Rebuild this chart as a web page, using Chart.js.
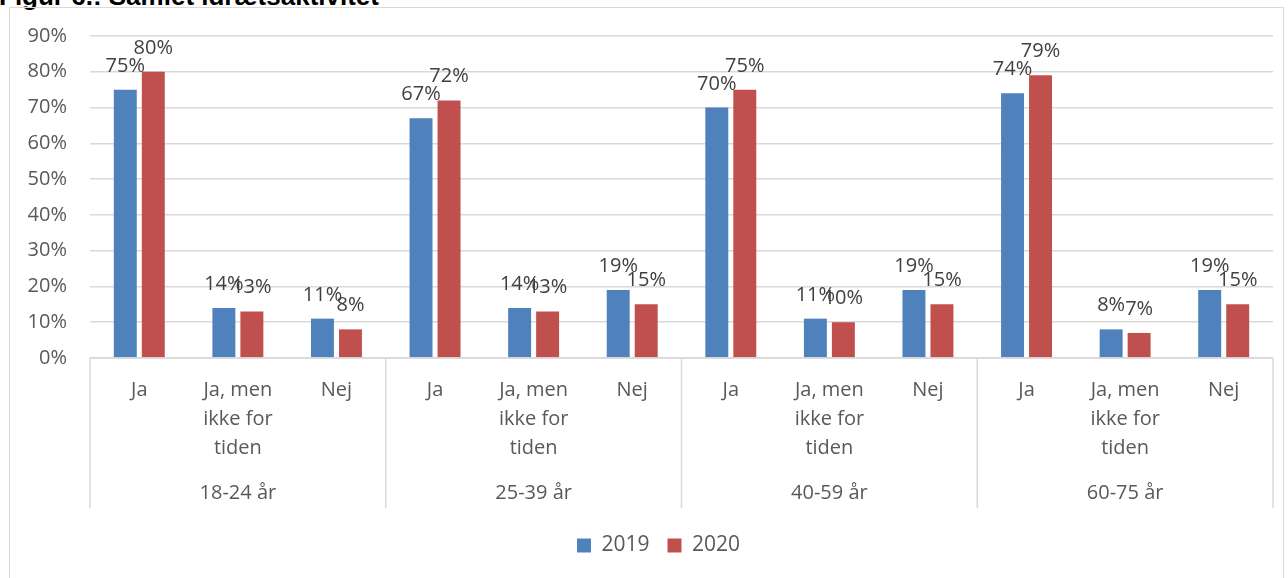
<!DOCTYPE html>
<html>
<head>
<meta charset="utf-8">
<script src="https://cdn.jsdelivr.net/npm/chart.js@4.4.0/dist/chart.umd.min.js"></script>
<style>
  body { margin: 0; background: #fff; width: 1288px; height: 578px; overflow: hidden; position: relative; }
  #title { position: absolute; left: -1px; top: -19px; line-height: 26px; font: bold 26px 'Liberation Sans', Arial, sans-serif; color: #000; white-space: nowrap; }
  #frame { position: absolute; left: 9px; top: 7px; width: 1273px; height: 600px; border: 1px solid #d9d9d9; }
  #wrap { position: relative; width: 1273px; height: 570px; }
</style>
</head>
<body>
<div id="title">Figur 6.: Samlet idrætsaktivitet</div>
<div id="frame">
  <div id="wrap"><canvas id="sportChart"></canvas></div>
</div>
<script>
// aldersgrupper og svar
var ageGroups = ['18-24 år', '25-39 år', '40-59 år', '60-75 år'];
var answers = [['Ja'], ['Ja, men', 'ikke for', 'tiden'], ['Nej']];
// andel i procent, 3 svar pr. aldersgruppe
var values2019 = [75, 14, 11, 67, 14, 19, 70, 11, 19, 74, 8, 19];
var values2020 = [80, 13, 8, 72, 13, 15, 75, 10, 15, 79, 7, 15];
var yTicks = [0, 10, 20, 30, 40, 50, 60, 70, 80, 90];

var labels = [];
ageGroups.forEach(function () {
    answers.forEach(function (a) { labels.push(a); });
});

var FONT = "'Open Sans', sans-serif";
var GRID = '#d9d9d9';

// procenttal over hver søjle
var barValues = {
    id: 'barValues',
    afterDatasetsDraw: function (chart) {
        var ctx = chart.ctx;
        ctx.save();
        ctx.font = '20px ' + FONT;
        ctx.fillStyle = '#404040';
        ctx.textAlign = 'center';
        ctx.textBaseline = 'alphabetic';
        chart.data.datasets.forEach(function (ds, i) {
            chart.getDatasetMeta(i).data.forEach(function (bar, j) {
                ctx.fillText(ds.data[j] + '%', bar.x, bar.y - 18);
            });
        });
        ctx.restore();
    }
};

// kasser og tekst for aldersgrupperne under x-aksen
var groupBoxes = {
    id: 'groupBoxes',
    afterLayout: function (chart) {
        // forklaringen skal sidde lidt til højre for midten
        chart.legend.left += 17;
        chart.legend.right += 17;
    },
    afterDraw: function (chart) {
        var ctx = chart.ctx;
        var area = chart.chartArea;
        var n = answers.length;
        var cw = (area.right - area.left) / labels.length;
        ctx.save();
        ctx.strokeStyle = GRID;
        ctx.lineWidth = 1.5;
        ctx.beginPath();
        ctx.moveTo(area.left, area.bottom);
        ctx.lineTo(area.right, area.bottom);
        for (var k = 0; k <= ageGroups.length; k++) {
            var bx = area.left + k * n * cw;
            ctx.moveTo(bx, area.bottom);
            ctx.lineTo(bx, area.bottom + 150);
        }
        ctx.stroke();
        ctx.font = '20px ' + FONT;
        ctx.fillStyle = '#595959';
        ctx.textAlign = 'center';
        ctx.textBaseline = 'middle';
        ageGroups.forEach(function (g, k) {
            var cx = area.left + (k * n + n / 2) * cw;
            ctx.fillText(g, cx, area.bottom + 135);
        });
        ctx.restore();
    }
};

var ctx = document.getElementById('sportChart').getContext('2d');
var chart = new Chart(ctx, {
    type: 'bar',
    data: {
        labels: labels,
        datasets: [{
            label: '2019',
            data: values2019,
            backgroundColor: '#4f81bd'
        }, {
            label: '2020',
            data: values2020,
            backgroundColor: '#c0504d'
        }]
    },
    options: {
        responsive: true,
        maintainAspectRatio: false,
        animation: false,
        categoryPercentage: 0.568,
        barPercentage: 0.82,
        layout: { padding: { top: 28, right: 10, bottom: 12, left: 0 } },
        scales: {
            y: {
                min: 0,
                max: 90,
                afterBuildTicks: function (scale) {
                    scale.ticks = yTicks.map(function (v) { return { value: v }; });
                },
                afterFit: function (scale) { scale.width = 80; },
                grid: { color: GRID, lineWidth: 1.5, drawTicks: false },
                border: { display: false },
                ticks: {
                    padding: 23,
                    color: '#595959',
                    font: { family: FONT, size: 20, lineHeight: '8px' },
                    callback: function (v) { return v + '%'; }
                }
            },
            x: {
                afterFit: function (scale) { scale.height = 159; },
                grid: { display: false },
                border: { display: false },
                ticks: {
                    padding: 10,
                    maxRotation: 0,
                    autoSkip: false,
                    color: '#595959',
                    font: { family: FONT, size: 20, lineHeight: '29px' }
                }
            }
        },
        plugins: {
            legend: {
                position: 'bottom',
                labels: {
                    boxWidth: 14,
                    boxHeight: 14,
                    padding: 18,
                    color: '#595959',
                    font: { family: FONT, size: 21 }
                }
            },
            tooltip: { enabled: false }
        }
    },
    plugins: [barValues, groupBoxes]
});
</script>
</body>
</html>
